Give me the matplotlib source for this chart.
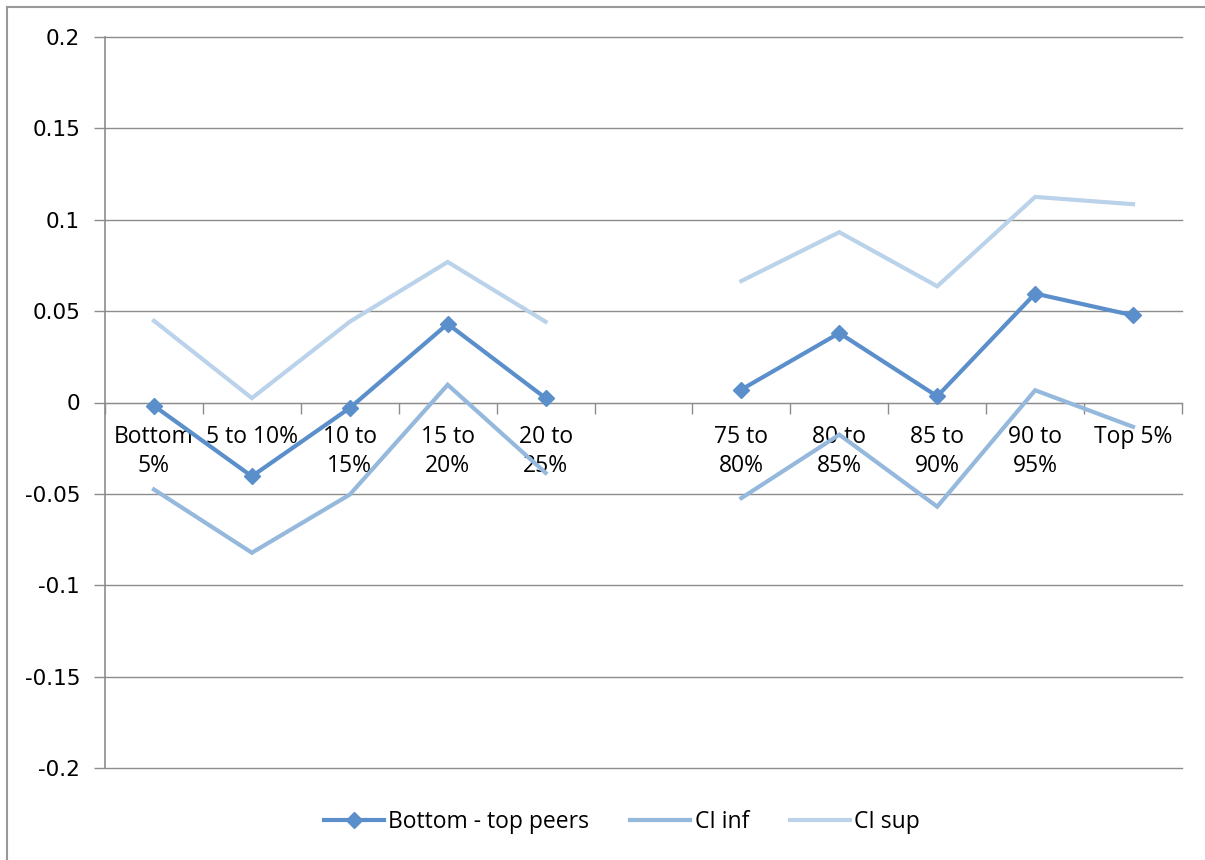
import numpy as np
import matplotlib
matplotlib.use("Agg")
import matplotlib.pyplot as plt
from matplotlib.lines import Line2D

# categories (the empty one is the gap between the two groups)
categories = ["Bottom\n5%", "5 to 10%", "10 to\n15%", "15 to\n20%", "20 to\n25%", "",
              "75 to\n80%", "80 to\n85%", "85 to\n90%", "90 to\n95%", "Top 5%"]

diff = [-0.0018, -0.0404, -0.003, 0.043, 0.0024, np.nan,
        0.0071, 0.038, 0.0034, 0.0596, 0.0477]
ci_inf = [-0.0476, -0.0822, -0.0504, 0.0097, -0.0385, np.nan,
          -0.0523, -0.0176, -0.057, 0.0067, -0.0133]
ci_sup = [0.0447, 0.0024, 0.0442, 0.0769, 0.0442, np.nan,
          0.0665, 0.0932, 0.0636, 0.1125, 0.1085]

yticks = [-0.2, -0.15, -0.1, -0.05, 0, 0.05, 0.1, 0.15, 0.2]
ytick_labels = ["-0.2", "-0.15", "-0.1", "-0.05", "0", "0.05", "0.1", "0.15", "0.2"]

c_main = "#5A8FCB"
c_inf = "#95B8DD"
c_sup = "#BBD3EA"
grid_c = "#8C8C8C"

fig = plt.figure(figsize=(12.05, 8.6), dpi=100)
ax = fig.add_axes([105 / 1205, 1 - 768 / 860, (1182 - 105) / 1205, (768 - 37) / 860])

x = np.arange(len(categories))
ax.plot(x, ci_sup, color=c_sup, lw=3, solid_joinstyle="miter", zorder=3)
ax.plot(x, ci_inf, color=c_inf, lw=3, solid_joinstyle="miter", zorder=3)
ax.plot(x, diff, color=c_main, lw=3, marker="D", ms=8.5, zorder=4)

ax.set_xlim(-0.5, len(categories) - 0.5)
ax.set_ylim(-0.2, 0.2)

# horizontal gridlines
for yv in yticks:
    ax.axhline(yv, color=grid_c, lw=1, zorder=1, clip_on=False)

ax.set_yticks(yticks)
ax.set_yticklabels(ytick_labels, fontsize=15.5, family="DejaVu Sans")
ax.tick_params(axis="y", length=8, color=grid_c, width=1, pad=10)

# x axis sits on zero with ticks at category boundaries
ax.spines["bottom"].set_position(("data", 0))
ax.spines["bottom"].set_color(grid_c)
ax.spines["left"].set_color(grid_c)
ax.spines["left"].set_linewidth(1.2)
ax.spines["top"].set_visible(False)
ax.spines["right"].set_visible(False)
ax.set_xticks(np.arange(-0.5, len(categories), 1.0))
ax.set_xticklabels([])
ax.tick_params(axis="x", length=8, color=grid_c, width=1, direction="out")

for xi, lab in zip(x, categories):
    ax.text(xi, -0.0125, lab, ha="center", va="top", fontsize=16.5,
            family="Open Sans", linespacing=1.25, zorder=2)

handles = [
    Line2D([], [], color=c_main, lw=3, marker="D", ms=8.5),
    Line2D([], [], color=c_inf, lw=3),
    Line2D([], [], color=c_sup, lw=3),
]
fig.legend(handles, ["Bottom - top peers", "CI inf", "CI sup"],
           loc="center", bbox_to_anchor=(622 / 1205, 1 - 822 / 860), ncol=3,
           frameon=False, prop={"family": "Open Sans", "size": 16.5},
           handlelength=2.6, handletextpad=0.2, columnspacing=1.8)

# outer chart border (top and left visible)
fig.add_artist(Line2D([7 / 1205, 7 / 1205], [0, 1 - 7 / 860], color="#999999", lw=1.5))
fig.add_artist(Line2D([7 / 1205, 1], [1 - 7 / 860, 1 - 7 / 860], color="#999999", lw=1.5))

fig.savefig("out.png", dpi=100, facecolor="white")
